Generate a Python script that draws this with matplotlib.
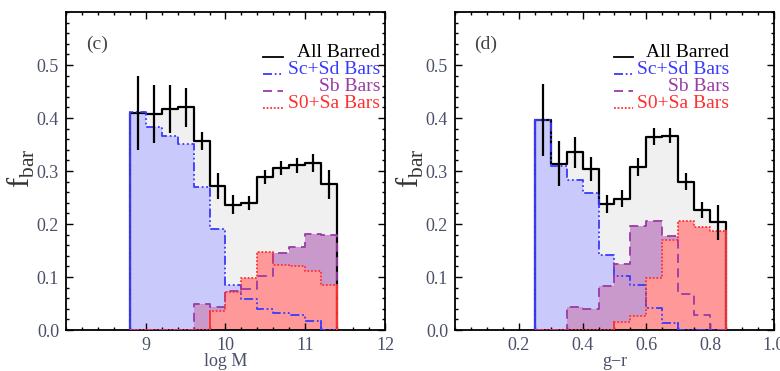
import matplotlib
matplotlib.use('Agg')
import matplotlib.pyplot as plt
import numpy as np
from matplotlib.ticker import MultipleLocator

plt.rcParams['font.family'] = ['Liberation Serif', 'DejaVu Serif']
plt.rcParams['mathtext.fontset'] = 'custom'
plt.rcParams['mathtext.rm'] = 'Liberation Serif'

# stellar mass bins (log M), width 0.2
mass_edges = [8.8, 9.0, 9.2, 9.4, 9.6, 9.8, 10.0, 10.2, 10.4, 10.6, 10.8, 11.0, 11.2, 11.4]
mass_all = [0.410, 0.407, 0.417, 0.420, 0.357, 0.272, 0.236, 0.240, 0.289, 0.305, 0.311, 0.316, 0.275]
mass_all_err = [0.070, 0.055, 0.045, 0.037, 0.017, 0.024, 0.018, 0.013, 0.013, 0.013, 0.014, 0.017, 0.027]
mass_scsd = [0.411, 0.384, 0.366, 0.351, 0.270, 0.191, 0.085, 0.058, 0.039, 0.033, 0.028, 0.017, 0.0]
mass_sb = [0.0, 0.0, 0.0, 0.0, 0.049, 0.044, 0.074, 0.078, 0.101, 0.145, 0.156, 0.181, 0.179]
mass_s0sa = [0.0, 0.0, 0.0, 0.0, 0.0, 0.035, 0.072, 0.099, 0.148, 0.123, 0.120, 0.112, 0.084]

# g-r colour bins, width 0.05
color_edges = [0.25, 0.30, 0.35, 0.40, 0.45, 0.50, 0.55, 0.60, 0.65, 0.70, 0.75, 0.80, 0.85]
color_all = [0.397, 0.314, 0.335, 0.304, 0.238, 0.248, 0.308, 0.365, 0.367, 0.280, 0.226, 0.203]
color_all_err = [0.068, 0.042, 0.030, 0.022, 0.017, 0.016, 0.017, 0.016, 0.014, 0.016, 0.015, 0.033]
color_scsd = [0.397, 0.310, 0.283, 0.259, 0.142, 0.102, 0.084, 0.041, 0.014, 0.0, 0.0, 0.0]
color_sb = [0.0, 0.0, 0.044, 0.040, 0.083, 0.125, 0.196, 0.206, 0.178, 0.068, 0.028, 0.0]
color_s0sa = [0.0, 0.0, 0.0, 0.0, 0.0, 0.016, 0.027, 0.099, 0.170, 0.206, 0.195, 0.186]

labels = ['All Barred', 'Sc+Sd Bars', 'Sb Bars', 'S0+Sa Bars']
line_colors = ['black', '#3a3aff', '#9a3aa6', '#ff3030']
fill_colors = ['#f0f0f0', '#c9c9fb', '#c999cc', '#ff9898']
line_styles = ['-', (0, (5, 1.5, 1, 1.5, 1, 1.5)), (0, (5, 3)), (0, (1, 1))]
solid_sides = [False, True, False, True]
tick_color = '#4a5068'


def step_xy(edges, vals):
    x = np.repeat(edges, 2)
    y = np.concatenate([[0], np.repeat(vals, 2), [0]])
    return x, y


def draw_panel(fig, ax, edges, series, err, xlim, xmajor, xminor, xlabel, tag, leg_x):
    edges = np.asarray(edges)
    # fills first, black "all" at the back, S0+Sa on top
    for vals, fc in zip(series, fill_colors):
        x, y = step_xy(edges, vals)
        ax.fill_between(x, 0, y, color=fc, lw=0, zorder=1)
    for vals, lc, ls, solid in zip(series, line_colors, line_styles, solid_sides):
        x, y = step_xy(edges, vals)
        lw = 1.6 if lc == 'black' else 1.3
        ax.plot(x, y, color=lc, ls=ls, lw=lw, zorder=2 if lc == 'black' else 3)
        if solid:
            # outer edges of the filled histogram are drawn solid
            vals = np.asarray(vals)
            nz = np.nonzero(vals)[0]
            i0, i1 = nz[0], nz[-1]
            ax.plot([edges[i0], edges[i0]], [0, vals[i0]], color=lc, lw=1.3, zorder=3)
            ax.plot([edges[i1 + 1], edges[i1 + 1]], [0, vals[i1]], color=lc, lw=1.3, zorder=3)
    centers = 0.5 * (edges[:-1] + edges[1:])
    all_vals = np.asarray(series[0])
    ax.vlines(centers, all_vals - np.asarray(err), all_vals + np.asarray(err),
              color='black', lw=1.6, zorder=4)

    ax.set_xlim(*xlim)
    ax.set_ylim(0, 0.6)
    ax.xaxis.set_major_locator(MultipleLocator(xmajor))
    ax.xaxis.set_minor_locator(MultipleLocator(xminor))
    ax.yaxis.set_major_locator(MultipleLocator(0.1))
    ax.yaxis.set_minor_locator(MultipleLocator(0.02))
    ax.tick_params(which='both', direction='in', top=True, right=True,
                   labelsize=13, labelcolor=tick_color, width=1.0, pad=5)
    ax.tick_params(which='major', length=5)
    ax.tick_params(which='minor', length=2.5)
    for s in ax.spines.values():
        s.set_linewidth(1.3)

    yt = np.arange(0, 0.55, 0.1)
    ax.set_yticks(yt)
    ax.set_yticklabels(['%.1f' % v for v in yt])

    pos = ax.get_position()
    fig.text(pos.x0 + pos.width / 2, 1 - 362 / 371, xlabel, fontsize=13, color=tick_color,
             ha='center', va='center')
    fig.text(pos.x0 - 45 / 780, pos.y0 + pos.height * 0.51, r'$\mathrm{f}_{\mathrm{bar}}$',
             fontsize=22, color='#333333', rotation=90, ha='center', va='center')

    ax.text(0.097, 0.9, tag, transform=ax.transAxes, fontsize=14, color='#444444',
            ha='center', va='center')

    # legend: short sample line, then right-aligned coloured label
    for i, (lab, lc, ls) in enumerate(zip(labels, line_colors, line_styles)):
        yy = 0.874 - 0.054 * i
        ax.plot([leg_x[0], leg_x[1]], [yy - 0.014, yy - 0.014], transform=ax.transAxes,
                color=lc, ls=ls, lw=1.3, clip_on=False)
        ax.text(leg_x[2], yy, lab, transform=ax.transAxes, fontsize=14, color=lc,
                ha='right', va='center')


fig = plt.figure(figsize=(7.8, 3.71), dpi=100)
ax1 = fig.add_axes([0.0846, 0.1105, 0.409, 0.857])
ax2 = fig.add_axes([0.5833, 0.1105, 0.409, 0.857])

draw_panel(fig, ax1, mass_edges, [mass_all, mass_scsd, mass_sb, mass_s0sa], mass_all_err,
           (8, 12), 1, 0.2, 'log M', '(c)', (0.617, 0.68, 0.985))
ax1.set_xticks([9, 10, 11, 12])

draw_panel(fig, ax2, color_edges, [color_all, color_scsd, color_sb, color_s0sa], color_all_err,
           (0, 1.0), 0.2, 0.05, 'g\u2212r', '(d)', (0.497, 0.559, 0.86))
ax2.set_xticks([0.2, 0.4, 0.6, 0.8, 1.0])
ax2.set_xticklabels(['0.2', '0.4', '0.6', '0.8', '1.0'])

fig.savefig('out.png', dpi=100)
